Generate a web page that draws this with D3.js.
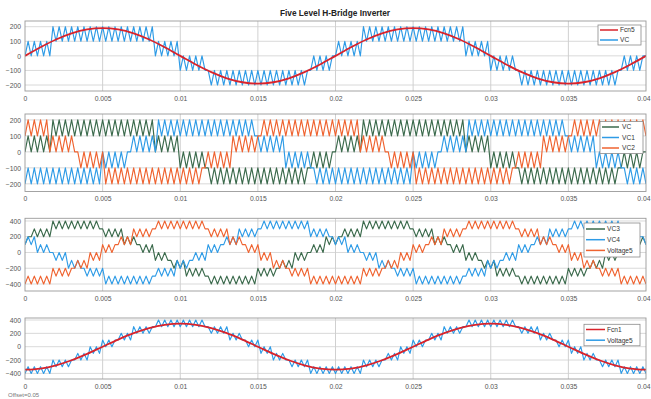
<!DOCTYPE html>
<html><head><meta charset="utf-8">
<script src="https://cdn.jsdelivr.net/npm/d3@7"></script>
<style>body{margin:0;background:#fff}svg{display:block}</style>
</head><body><svg id="c" width="651" height="399"></svg>
<script>
// ---- data ----
const sampleTime = 0.0002;   // PWM sample spacing (s)
const refStep = 0.001;       // reference sine sample spacing (s)
const xTicks = [0,0.005,0.01,0.015,0.02,0.025,0.03,0.035,0.04];
const xTickLabels = ["0","0.005","0.01","0.015","0.02","0.025","0.03","0.035","0.04"];
const phaseTicks = [-200,-100,0,100,200];
const lineTicks = [-400,-200,0,200,400];

const fcn5 = [0,59,112,154,181,190,181,154,112,59,0,-59,-112,-154,-181,-190,-181,-154,-112,-59,
              0,59,112,154,181,190,181,154,112,59,0,-59,-112,-154,-181,-190,-181,-154,-112,-59,0];
const fcn1 = [-345,-328,-279,-203,-107,0,107,203,279,328,345,328,279,203,107,0,-107,-203,-279,-328,
              -345,-328,-279,-203,-107,0,107,203,279,328,345,328,279,203,107,0,-107,-203,-279,-328,-345];

const vc = [
0,100,0,100,0,100,0,100,0,200, 100,200,100,200,100,200,100,200,100,200,
100,200,100,200,100,200,100,200,100,200, 100,200,100,200,100,200,100,200,100,200,
100,200,0,100,0,100,0,100,0,100, -100,0,-100,0,-100,0,-100,0,-100,-100,
-200,-100,-200,-100,-200,-100,-200,-100,-200,-100, -200,-100,-200,-100,-200,-100,-200,-100,-200,-100,
-200,-100,-200,-100,-200,-100,-200,-100,-200,-100, -200,-100,-100,0,-100,0,-100,0,-100,0,
0,100,0,100,0,100,0,100,0,200, 100,200,100,200,100,200,100,200,100,200,
100,200,100,200,100,200,100,200,100,200, 100,200,100,200,100,200,100,200,100,200,
100,200,0,100,0,100,0,100,0,100, -100,0,-100,0,-100,0,-100,0,-100,-100,
-200,-100,-200,-100,-200,-100,-200,-100,-200,-100, -200,-100,-200,-100,-200,-100,-200,-100,-200,-100,
-200,-100,-200,-100,-200,-100,-200,-100,-200,-100, -200,-100,-100,0,-100,0,-100,0,-100,0,
0];

const vc1 = [
-200,-100,-200,-100,-200,-100,-200,-100,-200,-100, -200,-100,-200,-100,-200,-100,-200,-100,-200,-100,
-200,-100,-200,-100,-200,0,-100,0,-100,0, -100,0,-100,0,0,100,0,100,0,100,
0,100,0,200,100,200,100,200,100,200, 100,200,100,200,100,200,100,200,100,200,
100,200,100,200,100,200,100,200,100,200, 100,200,100,200,100,100,0,100,0,100,
0,100,0,100,-100,0,-100,0,-100,0, -100,0,-100,-100,-200,-100,-200,-100,-200,-100,
-200,-100,-200,-100,-200,-100,-200,-100,-200,-100, -200,-100,-200,-100,-200,-100,-200,-100,-200,-100,
-200,-100,-200,-100,-200,0,-100,0,-100,0, -100,0,-100,0,0,100,0,100,0,100,
0,100,0,200,100,200,100,200,100,200, 100,200,100,200,100,200,100,200,100,200,
100,200,100,200,100,200,100,200,100,200, 100,200,100,200,100,100,0,100,0,100,
0,100,0,100,-100,0,-100,0,-100,0, -100,0,-100,-100,-200,-100,-200,-100,-200,-100,
-200];

const vc2 = [
100,200,100,200,100,200,100,200,0,100, 0,100,0,100,0,100,0,0,-100,0,
-100,0,-100,0,-100,0,-200,-100,-200,-100, -200,-100,-200,-100,-200,-100,-200,-100,-200,-100,
-200,-100,-200,-100,-200,-100,-200,-100,-200,-100, -200,-100,-200,-100,-200,-100,-200,-100,-100,0,
-100,0,-100,0,-100,0,-100,100,0,100, 0,100,0,100,0,100,100,200,100,200,
100,200,100,200,100,200,100,200,100,200, 100,200,100,200,100,200,100,200,100,200,
100,200,100,200,100,200,100,200,0,100, 0,100,0,100,0,100,0,0,-100,0,
-100,0,-100,0,-100,0,-200,-100,-200,-100, -200,-100,-200,-100,-200,-100,-200,-100,-200,-100,
-200,-100,-200,-100,-200,-100,-200,-100,-200,-100, -200,-100,-200,-100,-200,-100,-200,-100,-100,0,
-100,0,-100,0,-100,0,-100,100,0,100, 0,100,0,100,0,100,100,200,100,200,
100,200,100,200,100,200,100,200,100,200, 100,200,100,200,100,200,100,200,100,200,
100];

const vc3 = [
100,200,200,300,200,300,200,300,200,400, 300,400,300,400,300,400,300,400,300,400,
300,400,300,400,300,300,200,300,200,300, 200,300,100,200,100,200,100,100,0,100,
0,100,-100,0,-100,0,-100,-100,-200,-100, -200,-100,-300,-200,-300,-200,-300,-200,-300,-300,
-400,-300,-400,-300,-400,-300,-400,-300,-400,-300, -400,-300,-400,-300,-400,-200,-300,-200,-300,-200,
-300,-200,-200,-100,-200,-100,-200,0,-100,0, -100,0,0,100,0,100,0,200,100,200,
100,200,200,300,200,300,200,300,200,400, 300,400,300,400,300,400,300,400,300,400,
300,400,300,400,300,300,200,300,200,300, 200,300,100,200,100,200,100,100,0,100,
0,100,-100,0,-100,0,-100,-100,-200,-100, -200,-100,-300,-200,-300,-200,-300,-200,-300,-300,
-400,-300,-400,-300,-400,-300,-400,-300,-400,-300, -400,-300,-400,-300,-400,-200,-300,-200,-300,-200,
-300,-200,-200,-100,-200,-100,-200,0,-100,0, -100,0,0,100,0,100,0,200,100,200,
100];

const vc4 = [
100,200,100,200,0,100,0,100,0,0, -100,0,-100,0,-200,-100,-200,-100,-200,-200,
-300,-200,-300,-200,-300,-200,-400,-300,-400,-300, -400,-300,-400,-300,-400,-300,-400,-300,-400,-300,
-400,-300,-300,-200,-300,-200,-300,-200,-300,-100, -200,-100,-200,-100,-100,0,-100,0,-100,100,
0,100,0,100,100,200,100,200,100,300, 200,300,200,300,200,300,300,400,300,400,
300,400,300,400,300,400,300,400,300,400, 300,400,200,300,200,300,200,300,200,200,
100,200,100,200,0,100,0,100,0,0, -100,0,-100,0,-200,-100,-200,-100,-200,-200,
-300,-200,-300,-200,-300,-200,-400,-300,-400,-300, -400,-300,-400,-300,-400,-300,-400,-300,-400,-300,
-400,-300,-300,-200,-300,-200,-300,-200,-300,-100, -200,-100,-200,-100,-100,0,-100,0,-100,100,
0,100,0,100,100,200,100,200,100,300, 200,300,200,300,200,300,300,400,300,400,
300,400,300,400,300,400,300,400,300,400, 300,400,200,300,200,300,200,300,200,200,
100];

const voltage5 = [
-400,-300,-400,-300,-400,-300,-400,-300,-400,-200, -300,-200,-300,-200,-300,-200,-200,-100,-200,-100,
-200,0,-100,0,-100,100,0,100,0,100, 100,200,100,200,100,300,200,300,200,300,
200,300,300,400,300,400,300,400,300,400, 300,400,300,400,300,400,300,400,300,300,
200,300,200,300,200,300,100,200,100,200, 100,100,0,100,0,100,-100,0,-100,0,
-200,-100,-200,-100,-200,-200,-300,-200,-300,-200, -300,-200,-400,-300,-400,-300,-400,-300,-400,-300,
-400,-300,-400,-300,-400,-300,-400,-300,-400,-200, -300,-200,-300,-200,-300,-200,-200,-100,-200,-100,
-200,0,-100,0,-100,100,0,100,0,100, 100,200,100,200,100,300,200,300,200,300,
200,300,300,400,300,400,300,400,300,400, 300,400,300,400,300,400,300,400,300,300,
200,300,200,300,200,300,100,200,100,200, 100,100,0,100,0,100,-100,0,-100,0,
-200,-100,-200,-100,-200,-200,-300,-200,-300,-200, -300,-200,-400,-300,-400,-300,-400,-300,-400,-300,
-400];

// ---- styling / layout ----
const BLUE = "#2e9be6", RED = "#d9232b", GREEN = "#3b6a4c", ORANGE = "#ef6330";
const FONT = "'Liberation Sans', Arial, sans-serif";
const X0 = 25, X1 = 646;

const panels = [
  {top:21, bottom:91, domain:[-241,239], ticks:phaseTicks,
   series:[{d:vc,c:BLUE,dt:sampleTime,w:1.15},{d:fcn5,c:RED,dt:refStep,w:1.8,smooth:true}],
   legend:{x:598,y:25,w:43,h:20,l0:600,l1:618,tx:620,ry:30,dy:10,items:[["Fcn5",RED],["VC",BLUE]]}},
  {top:114, bottom:191.5, domain:[-248,237], ticks:phaseTicks,
   series:[{d:vc,c:GREEN,dt:sampleTime,w:1.15},{d:vc1,c:BLUE,dt:sampleTime,w:1.15},{d:vc2,c:ORANGE,dt:sampleTime,w:1.15}],
   legend:{x:600,y:121.5,w:43,h:32,l0:602,l1:619,tx:622,ry:127,dy:10.5,items:[["VC",GREEN],["VC1",BLUE],["VC2",ORANGE]]}},
  {top:218.3, bottom:291, domain:[-489,434], ticks:lineTicks,
   series:[{d:vc3,c:GREEN,dt:sampleTime,w:1.15},{d:vc4,c:BLUE,dt:sampleTime,w:1.15},{d:voltage5,c:ORANGE,dt:sampleTime,w:1.15}],
   legend:{x:584,y:223,w:56,h:34,l0:586,l1:605,tx:607,ry:229,dy:10.7,items:[["VC3",GREEN],["VC4",BLUE],["Voltage5",ORANGE]]}},
  {top:318, bottom:379, domain:[-484,430], ticks:lineTicks,
   series:[{d:voltage5,c:BLUE,dt:sampleTime,w:1.15},{d:fcn1,c:RED,dt:refStep,w:1.8,smooth:true}],
   legend:{x:584,y:324.3,w:56,h:21.5,l0:586,l1:605,tx:607,ry:329.5,dy:10.7,items:[["Fcn1",RED],["Voltage5",BLUE]]}}
];

const svg = d3.select("#c");
svg.append("rect").attr("width",651).attr("height",399).attr("fill","#fff");
const x = d3.scaleLinear().domain([0,0.04]).range([X0,X1]);

svg.append("text").attr("x",335).attr("y",15.5).attr("text-anchor","middle")
  .attr("font-family",FONT).attr("font-weight","bold").attr("font-size",8.3).attr("fill","#222")
  .text("Five Level H-Bridge Inverter");

panels.forEach((p,pi)=>{
  const y = d3.scaleLinear().domain(p.domain).range([p.bottom,p.top]);
  const g = svg.append("g");
  g.append("rect").attr("x",X0).attr("y",p.top).attr("width",X1-X0).attr("height",p.bottom-p.top).attr("fill","#fff");
  // grid
  g.selectAll(".vg").data(xTicks.slice(1,-1)).enter().append("line")
    .attr("x1",d=>x(d)).attr("x2",d=>x(d)).attr("y1",p.top).attr("y2",p.bottom)
    .attr("stroke","#c4c4c4").attr("stroke-width",0.8);
  g.selectAll(".hg").data(p.ticks).enter().append("line")
    .attr("x1",X0).attr("x2",X1).attr("y1",d=>y(d)).attr("y2",d=>y(d))
    .attr("stroke","#cfcfcf").attr("stroke-width",0.8);
  // axes labels
  const ya = d3.axisLeft(y).tickValues(p.ticks).tickSize(0).tickPadding(4);
  const yg = g.append("g").attr("transform",`translate(${X0},0)`).call(ya);
  yg.select(".domain").remove();
  yg.selectAll("text").attr("font-family",FONT).attr("font-size",6.8).attr("fill","#555");
  const xa = d3.axisBottom(x).tickValues(xTicks).tickFormat((d,i)=>xTickLabels[i]).tickSize(0).tickPadding(5);
  const xg = g.append("g").attr("transform",`translate(0,${p.bottom})`).call(xa);
  xg.select(".domain").remove();
  xg.selectAll("text").attr("font-family",FONT).attr("font-size",6.8).attr("fill","#555");
  // keep the last tick label inside the picture
  xg.selectAll(".tick").filter((d,i)=>i===xTicks.length-1).select("text")
    .attr("text-anchor","end").attr("dx","4");
  // clip
  const cid = "clip"+pi;
  svg.append("clipPath").attr("id",cid).append("rect")
    .attr("x",X0).attr("y",p.top).attr("width",X1-X0).attr("height",p.bottom-p.top);
  const lg = g.append("g").attr("clip-path",`url(#${cid})`);
  p.series.forEach(s=>{
    const line = d3.line().x((d,i)=>x(i*s.dt)).y(d=>y(d));
    if (s.smooth) line.curve(d3.curveCatmullRom);
    lg.append("path").datum(s.d).attr("d",line).attr("fill","none")
      .attr("stroke",s.c).attr("stroke-width",s.w).attr("stroke-linejoin","round");
  });
  // frame
  g.append("rect").attr("x",X0).attr("y",p.top).attr("width",X1-X0).attr("height",p.bottom-p.top)
    .attr("fill","none").attr("stroke","#9a9a9a").attr("stroke-width",0.9);
  // legend
  const L = p.legend;
  const leg = g.append("g");
  leg.append("rect").attr("x",L.x).attr("y",L.y).attr("width",L.w).attr("height",L.h)
    .attr("fill","#fff").attr("stroke","#8a8a8a").attr("stroke-width",0.8);
  L.items.forEach((it,i)=>{
    const yy = L.ry + i*L.dy;
    leg.append("line").attr("x1",L.l0).attr("x2",L.l1).attr("y1",yy).attr("y2",yy)
      .attr("stroke",it[1]).attr("stroke-width",1.5);
    leg.append("text").attr("x",L.tx).attr("y",yy+2.3).attr("font-family",FONT)
      .attr("font-size",6.6).attr("fill","#333").text(it[0]);
  });
});

svg.append("text").attr("x",8).attr("y",397).attr("font-family",FONT).attr("font-size",6)
  .attr("fill","#777").text("Offset=0.05");
</script></body></html>
